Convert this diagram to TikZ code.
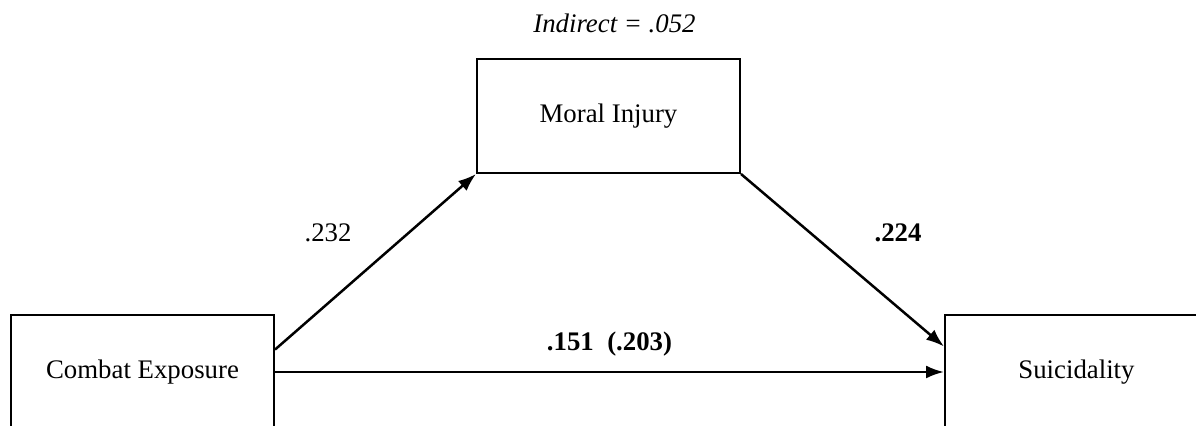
\documentclass[tikz,border=0pt]{standalone}
\usepackage{fontspec}
\setmainfont{Liberation Serif}
\usepackage{tikz}
\usetikzlibrary{arrows.meta, calc, positioning}
\tikzstyle{block} = [draw, line width=1pt, minimum width=131.5pt, minimum height=57pt, align=center, inner sep=0pt]
\tikzstyle{coef} = [inner sep=4.4pt]

\begin{document}
\begin{tikzpicture}[>={Latex[length=9pt,width=6.5pt]}, x=0.5pt, y=-0.5pt, line width=1.25pt, font=\fontsize{13.4}{15}\selectfont]
        \useasboundingbox (0,0) rectangle (1196,426);
        \node[block] (CE) at (142.5,372) {Combat Exposure};
        \node[block] (MI) at (608.5,116) {Moral Injury};
        \node[block, right=334.5pt of CE] (SU) {Suicidality};
        \node[above=11.7pt of MI.north, xshift=3pt, inner sep=0pt] (IND) {\textit{Indirect = .052}};

        \draw[->] ($(CE.east)!0.386!(CE.north east)$) -- (MI.south west) node[coef, midway, above left=5pt and 7pt] (a) {.232};

        \draw[->] (MI.south east) -- ($(SU.west)!0.44!(SU.north west)$) node[coef, midway, above right=4pt and 11pt] (b) {\textbf{.224}};

        \draw[->] (CE.east) -- (SU.west) node[coef, midway, above=3pt] (c) {\textbf{.151}\ \ \textbf{(.203)}};

    \end{tikzpicture}
\end{document}
